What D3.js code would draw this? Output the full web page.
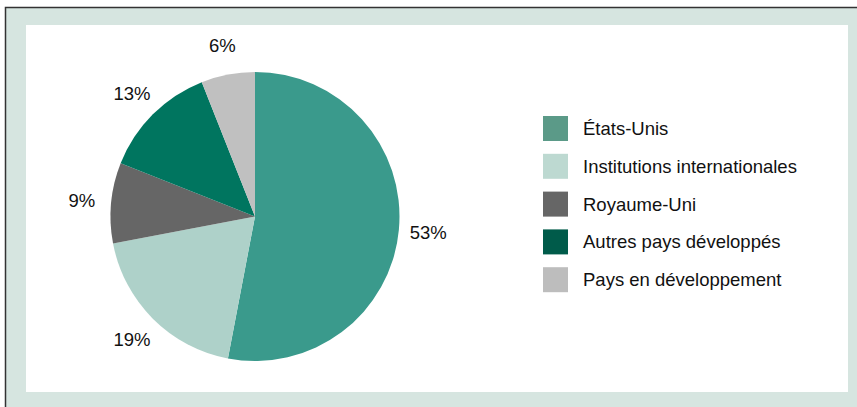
<!DOCTYPE html>
<html>
<head>
<meta charset="utf-8">
<script src="https://cdn.jsdelivr.net/npm/d3@7"></script>
<style>
  html, body { margin: 0; padding: 0; background: #ffffff; }
  svg { display: block; }
  text { font-family: "Liberation Sans", Arial, sans-serif; fill: #111111; }
</style>
</head>
<body>
<svg id="chart" width="857" height="407"></svg>
<script>
// Répartition en pourcentage
const categories = ["États-Unis", "Institutions internationales", "Royaume-Uni", "Autres pays développés", "Pays en développement"];
const shares = [53, 19, 9, 13, 6];
const sliceColors = ["#3a9a8c", "#aed1c9", "#666666", "#00755f", "#c0c0c0"];
const legendColors = ["#5b9a88", "#bdd9d1", "#666666", "#005b4a", "#bdbdbd"];

const W = 857, H = 407;
const svg = d3.select("#chart");

// Cadre extérieur et panneau blanc
svg.append("rect")
  .attr("x", 5.5).attr("y", 7.5)
  .attr("width", W + 10).attr("height", H + 10)
  .attr("fill", "#d6e5e0")
  .attr("stroke", "#333333").attr("stroke-width", 1.5);
svg.append("rect")
  .attr("x", 26).attr("y", 25)
  .attr("width", 822).attr("height", 367)
  .attr("fill", "#ffffff");

// Camembert
const cx = 255, cy = 216.5, radius = 144.5, labelRadius = 174;
const data = categories.map((c, i) => ({ name: c, value: shares[i], color: sliceColors[i], legend: legendColors[i] }));

const pie = d3.pie().sort(null).value(d => d.value);
const arcs = pie(data);
const arc = d3.arc().innerRadius(0).outerRadius(radius);
const labelArc = d3.arc().innerRadius(labelRadius).outerRadius(labelRadius);

const g = svg.append("g").attr("transform", `translate(${cx},${cy})`);
g.selectAll("path.slice")
  .data(arcs)
  .join("path")
  .attr("class", "slice")
  .attr("d", arc)
  .attr("fill", d => d.data.color);

g.selectAll("text.pct")
  .data(arcs)
  .join("text")
  .attr("class", "pct")
  .attr("transform", d => `translate(${labelArc.centroid(d)})`)
  .attr("text-anchor", "middle")
  .attr("dy", "0.35em")
  .style("font-size", "18.5px")
  .text(d => d3.format("d")(d.data.value) + "%");

// Légende
const legendX = 543, legendY = 116, rowStep = 37.8, sw = 25;
const legend = svg.append("g").attr("transform", `translate(${legendX},${legendY})`);
const rows = legend.selectAll("g.row")
  .data(data)
  .join("g")
  .attr("class", "row")
  .attr("transform", (d, i) => `translate(0,${i * rowStep})`);
rows.append("rect")
  .attr("width", sw).attr("height", sw)
  .attr("fill", d => d.legend);
rows.append("text")
  .attr("x", 40).attr("y", sw / 2)
  .attr("dy", "0.35em")
  .style("font-size", "18.5px")
  .text(d => d.name);
</script>
</body>
</html>
